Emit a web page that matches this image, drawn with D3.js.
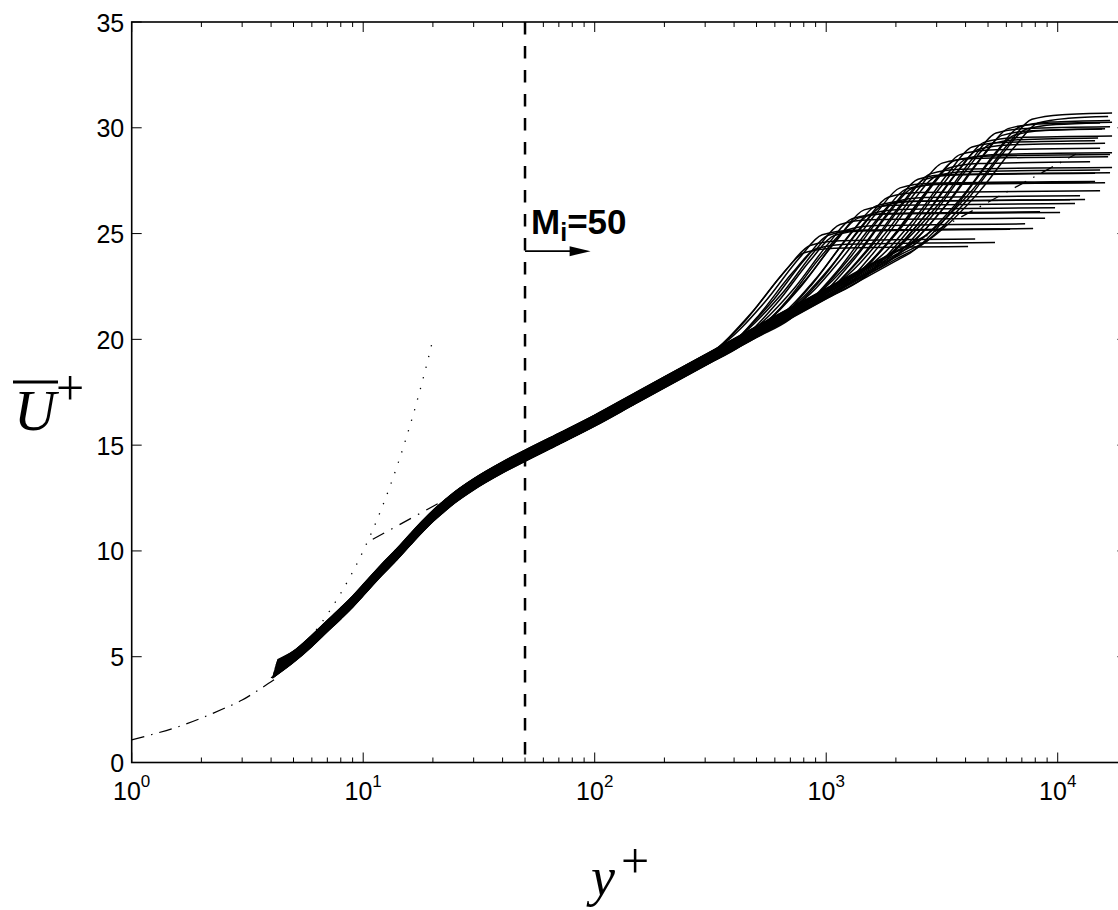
<!DOCTYPE html>
<html><head><meta charset="utf-8">
<script src="https://cdn.jsdelivr.net/npm/d3@7"></script>
<style>body{margin:0;background:#fff}svg{display:block}</style>
</head><body><svg id="c" width="1118" height="910"></svg>
<script>
// ---------------- data ----------------
const xMajorTicks = [1, 10, 100, 1000, 10000];
const xTickExponents = ["0", "1", "2", "3", "4"];
const yTicks = [0, 5, 10, 15, 20, 25, 30, 35];

// common inner (near-wall + log) profile of the bundle
const innerYPlus = [5,6,7,8,9,10,12,14,16,18,20,22,25,30,40,50,70,100,150,200,300,500,700,1000,1500,2000,3000];
const innerU     = [5.0,5.75,6.45,7.05,7.6,8.15,9.1,9.85,10.55,11.15,11.65,12.05,12.55,13.15,13.95,14.5,15.3,16.16,17.22,17.97,19.02,20.35,21.23,22.16,23.21,23.96,25.02];

// per-profile start points and small offsets (bundle thickness)
const curveStartYPlus = [4.13,4.2,4.06,4.25,4.16,4.09,4.23,4.05,4.19,4.14,4.24,4.08,4.18,4.11,4.2,4.05,4.26,4.15,4.1,4.21,4.13,4.18,4.08,4.24,4.09,4.16,4.2,4.06,4.23,4.11,4.19,4.1,4.25,4.15,4.21,4.05,4.18,4.08,4.23,4.13];
const curveStartU = [4.3,4.6,4.05,4.8,4.45,4.15,4.7,4.0,4.55,4.35,4.75,4.1,4.5,4.25,4.6,4.0,4.85,4.4,4.2,4.65,4.3,4.5,4.1,4.75,4.15,4.45,4.6,4.05,4.7,4.25,4.55,4.2,4.8,4.4,4.65,4.0,4.5,4.1,4.7,4.3];
const curveShift = [-0.06,0.14,-0.22,0.24,0.02,-0.14,0.18,-0.24,0.1,-0.02,0.22,-0.18,0.06,-0.1,0.12,-0.26,0.26,0.0,-0.12,0.17,-0.05,0.07,-0.19,0.23,-0.16,0.04,0.13,-0.23,0.19,-0.08,0.11,-0.13,0.25,-0.01,0.16,-0.25,0.05,-0.17,0.2,-0.07];

// outer part of each profile: departure, wake, edge, free-stream tail
const wakeYPlus = [
 [285,452,638,803,1084,4100],[303,480,678,853,1151,4400],[321,509,719,905,1222,5360],[341,541,764,961,1297,7830],
 [362,574,811,1021,1377,5640],[385,610,862,1084,1462,6230],[407,646,912,1148,1549,8820],[433,686,968,1219,1644,7230],
 [459,728,1028,1294,1746,10240],[488,773,1092,1374,1854,8390],[518,820,1159,1459,1968,11880],[550,871,1230,1549,2089,9740],
 [583,925,1306,1644,2218,13130],[619,982,1387,1746,2355,11310],[658,1042,1473,1853,2501,15240],[698,1107,1563,1968,2655,12490],
 [740,1172,1656,2084,2812,14500],[785,1245,1758,2213,2985,16020],[834,1321,1867,2349,3170,13800],[885,1403,1982,2494,3365,16830],
 [940,1489,2104,2648,3573,14500],[998,1581,2234,2812,3793,17170],[1059,1678,2371,2984,4026,15240],[1125,1783,2519,3170,4277,16510],
 [1194,1892,2673,3365,4540,13800],[1268,2010,2839,3573,4821,16830],[1343,2129,3007,3785,5106,15240],[1426,2260,3193,4018,5422,17170],
 [1514,2400,3390,4267,5756,14500],[1607,2547,3598,4529,6110,16020],[1706,2704,3820,4808,6486,17170],[1811,2870,4055,5103,6885,14940],
 [1923,3048,4306,5419,7311,16830],[2042,3237,4572,5754,7764,15550],[2168,3436,4854,6109,8243,17170],[2301,3647,5152,6484,8748,16020],
 [2438,3864,5459,6870,9269,16830],[2588,4102,5795,7293,9840,15240],[2748,4356,6153,7744,10450,17170],[2917,4623,6531,8220,11090,16510]
];
const wakeU = [
 [18.89,21.00,23.06,24.15,24.37,24.45],[19.05,21.16,23.21,24.30,24.52,24.60],[19.20,21.33,23.40,24.50,24.72,24.80],[19.36,21.50,23.59,24.70,24.92,25.00],
 [19.51,21.67,23.78,24.90,25.12,25.20],[19.67,21.83,23.93,25.05,25.27,25.35],[19.82,22.00,24.12,25.25,25.47,25.55],[19.98,22.15,24.27,25.40,25.62,25.70],
 [20.13,22.32,24.46,25.60,25.82,25.90],[20.29,22.48,24.61,25.75,25.97,26.05],[20.44,22.63,24.76,25.90,26.12,26.20],[20.60,22.80,24.95,26.10,26.32,26.40],
 [20.75,22.95,25.10,26.25,26.47,26.55],[20.91,23.11,25.25,26.40,26.62,26.70],[21.07,23.29,25.44,26.60,26.82,26.90],[21.22,23.44,25.59,26.75,26.97,27.05],
 [21.37,23.59,25.74,26.90,27.12,27.20],[21.53,23.76,25.93,27.10,27.32,27.40],[21.68,23.91,26.08,27.25,27.47,27.55],[21.84,24.07,26.24,27.40,27.62,27.70],
 [21.99,24.24,26.42,27.60,27.82,27.90],[22.15,24.39,26.58,27.75,27.97,28.05],[22.31,24.55,26.73,27.90,28.12,28.20],[22.46,24.72,26.92,28.10,28.32,28.40],
 [22.62,24.87,27.07,28.25,28.47,28.55],[22.78,25.03,27.22,28.40,28.62,28.70],[22.93,25.20,27.41,28.60,28.82,28.90],[23.08,25.35,27.56,28.75,28.97,29.05],
 [23.24,25.50,27.71,28.90,29.12,29.20],[23.39,25.65,27.86,29.05,29.27,29.35],[23.55,25.81,28.01,29.20,29.42,29.50],[23.71,25.97,28.17,29.35,29.57,29.65],
 [23.86,26.12,28.32,29.50,29.72,29.80],[24.02,26.27,28.47,29.65,29.87,29.95],[24.17,26.42,28.62,29.80,30.02,30.10],[24.33,26.56,28.73,29.90,30.12,30.20],
 [24.48,26.69,28.85,30.00,30.22,30.30],[24.63,26.82,28.96,30.10,30.32,30.40],[24.79,26.96,29.07,30.20,30.42,30.50],[24.95,27.10,29.19,30.30,30.52,30.60]
];

// reference lines
const nearWallYPlus = [1.0,1.25,1.5,2,2.5,3,3.5,4,4.3];
const nearWallU     = [1.07,1.35,1.6,2.1,2.55,2.95,3.4,3.82,4.05];
const logLawYPlus = [11, 12000];
const logLawU     = [10.55, 28.76];
const linearYPlus = [4,5,6,7,8,9,10,11,12,13,14,15,16,17,18,19,20];
const linearU     = [4,5,6,7,8,9,10,11,12,13,14,15,16,17,18,19,20];
const markerYPlus = 50;
const arrowEndYPlus = 96;
const arrowU = 24.17;
const labelU = 25.0;

// ---------------- drawing ----------------
const svg = d3.select('#c');
const x = d3.scaleLog().domain([1, 2e4]).range([131.7, 1127.4]);
const y = d3.scaleLinear().domain([0, 35]).range([762.5, 22]);
const [X0, X1] = x.range(), [Y0, Y1] = y.range();

const line = d3.line().x(d => x(d[0])).y(d => y(d[1])).curve(d3.curveMonotoneX);
const lineLin = d3.line().x(d => x(d[0])).y(d => y(d[1]));

// bundle of profiles
const profiles = wakeYPlus.map((wy, k) => {
  const pts = [[curveStartYPlus[k], curveStartU[k]]];
  innerYPlus.forEach((yp, i) => { if (yp < wy[0]) pts.push([yp, innerU[i] + curveShift[k]]); });
  wy.forEach((yp, i) => pts.push([yp, wakeU[k][i] + curveShift[k]]));
  return pts;
});
svg.append('g').selectAll('path').data(profiles).join('path')
  .attr('d', line).attr('fill', 'none').attr('stroke', '#000').attr('stroke-width', 1.5);

// near-wall dash-dot line
svg.append('path').datum(nearWallYPlus.map((v, i) => [v, nearWallU[i]]))
  .attr('d', line).attr('fill', 'none').attr('stroke', '#000').attr('stroke-width', 1.2)
  .attr('stroke-dasharray', '13,7,1.5,7');
// log law dash-dot line
svg.append('path').datum(logLawYPlus.map((v, i) => [v, logLawU[i]]))
  .attr('d', lineLin).attr('fill', 'none').attr('stroke', '#000').attr('stroke-width', 1.3)
  .attr('stroke-dasharray', '13,8,1.5,8');
// U+ = y+ dotted
svg.append('path').datum(linearYPlus.map((v, i) => [v, linearU[i]]))
  .attr('d', line).attr('fill', 'none').attr('stroke', '#000').attr('stroke-width', 1.3)
  .attr('stroke-dasharray', '1.3,9.7');

// vertical dashed marker
svg.append('line').attr('x1', x(markerYPlus)).attr('x2', x(markerYPlus))
  .attr('y1', Y1).attr('y2', Y0).attr('stroke', '#000').attr('stroke-width', 2.5)
  .attr('stroke-dasharray', '12.5,11.5');

// arrow
const ax0 = x(markerYPlus), ax1 = x(arrowEndYPlus), ay = y(arrowU);
svg.append('line').attr('x1', ax0).attr('x2', ax1 - 15).attr('y1', ay).attr('y2', ay)
  .attr('stroke', '#000').attr('stroke-width', 1.6);
svg.append('path').attr('d', `M${ax1},${ay} L${ax1 - 21},${ay - 5} L${ax1 - 21},${ay + 5} Z`).attr('fill', '#000');

// annotation text
const ann = svg.append('text').attr('x', x(markerYPlus) + 6).attr('y', y(labelU))
  .attr('font-family', 'Liberation Sans, Arial, Helvetica, sans-serif').attr('font-weight', 'bold')
  .attr('font-size', 35).attr('fill', '#000');
ann.append('tspan').text('M');
ann.append('tspan').attr('font-size', 25).attr('dy', 7).text('i');
ann.append('tspan').attr('dy', -7).text('=50');

// axes box
const axisG = svg.append('g').attr('stroke', '#000');
axisG.append('rect').attr('x', X0).attr('y', Y1).attr('width', X1 - X0).attr('height', Y0 - Y1)
  .attr('fill', 'none').attr('stroke-width', 1.6);

const allXTicks = x.ticks().filter(v => v >= 1 && v <= 2e4);
allXTicks.forEach(v => {
  const major = xMajorTicks.includes(v);
  const len = major ? 10 : 5;
  const px = x(v);
  axisG.append('line').attr('x1', px).attr('x2', px).attr('y1', Y0).attr('y2', Y0 - len).attr('stroke-width', 1);
  axisG.append('line').attr('x1', px).attr('x2', px).attr('y1', Y1).attr('y2', Y1 + len).attr('stroke-width', 1);
});
yTicks.forEach(v => {
  const py = y(v);
  axisG.append('line').attr('x1', X0).attr('x2', X0 + 10).attr('y1', py).attr('y2', py).attr('stroke-width', 1);
  axisG.append('line').attr('x1', X1).attr('x2', X1 - 10).attr('y1', py).attr('y2', py).attr('stroke-width', 1);
});

const font = 'Liberation Sans, Arial, Helvetica, sans-serif';
// y tick labels
svg.append('g').selectAll('text').data(yTicks).join('text')
  .attr('x', X0 - 7.5).attr('y', d => y(d) + 9.5)
  .attr('text-anchor', 'end').attr('font-family', font).attr('font-size', 25).attr('fill', '#000')
  .text(d => d);
// x tick labels
xMajorTicks.forEach((v, i) => {
  const t = svg.append('text').attr('x', x(v)).attr('y', 800)
    .attr('text-anchor', 'middle').attr('font-family', font).attr('font-size', 25).attr('fill', '#000');
  t.append('tspan').text('10');
  t.append('tspan').attr('font-size', 17).attr('dy', -13).text(xTickExponents[i]);
});

// axis titles
const serif = 'Liberation Serif, Times New Roman, serif';
svg.append('text').attr('x', 14).attr('y', 430).attr('font-family', serif).attr('font-style', 'italic')
  .attr('font-size', 58).attr('fill', '#000').text('U');
svg.append('line').attr('x1', 13).attr('x2', 58).attr('y1', 382).attr('y2', 382).attr('stroke', '#000').attr('stroke-width', 3);
svg.append('text').attr('x', 56).attr('y', 405).attr('font-family', serif)
  .attr('font-size', 50).attr('fill', '#000').text('+');

svg.append('text').attr('x', 591).attr('y', 895).attr('font-family', serif).attr('font-style', 'italic')
  .attr('font-size', 54).attr('fill', '#000').text('y');
svg.append('text').attr('x', 621).attr('y', 878).attr('font-family', serif)
  .attr('font-size', 50).attr('fill', '#000').text('+');
</script>
</body></html>
